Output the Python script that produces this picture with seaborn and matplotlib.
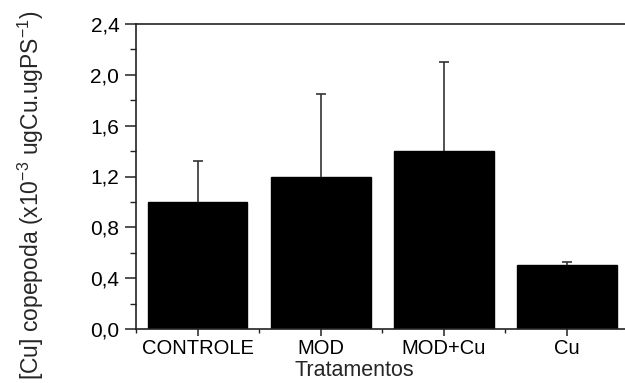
import matplotlib
matplotlib.use("Agg")
import matplotlib.pyplot as plt
import seaborn as sns
import pandas as pd
import numpy as np
from matplotlib.ticker import MultipleLocator, FuncFormatter

categories = ["CONTROLE", "MOD", "MOD+Cu", "Cu"]
means = [1.00, 1.20, 1.40, 0.50]
err_up = [0.32, 0.65, 0.70, 0.03]
yticks = [0.0, 0.4, 0.8, 1.2, 1.6, 2.0, 2.4]

sns.set_style("ticks")
plt.rcParams["font.family"] = ["Liberation Sans", "DejaVu Sans"]
plt.rcParams["mathtext.fontset"] = "custom"
plt.rcParams["mathtext.rm"] = "Liberation Sans"
plt.rcParams["mathtext.it"] = "Liberation Sans:italic"

df = pd.DataFrame({"Tratamento": categories, "valor": means})

fig = plt.figure(figsize=(6.25, 3.83), dpi=100)
ax = fig.add_axes([136/625, (383-329)/383, (628.5-136)/625, (329-24)/383])

sns.barplot(data=df, x="Tratamento", y="valor", color="black", width=0.81,
            saturation=1, ax=ax, errorbar=None, edgecolor="black")
_, caps, _ = ax.errorbar(np.arange(len(categories)), means,
                         yerr=[np.zeros(len(err_up)), err_up], fmt="none",
                         ecolor="#333333", elinewidth=1.2, capsize=3.5, capthick=1.2)
caps[0].set_visible(False)

ax.set_xlim(-0.5, 3.5)
ax.set_ylim(0, 2.4)
ax.set_yticks(yticks)
ax.yaxis.set_minor_locator(MultipleLocator(0.2))
ax.xaxis.set_minor_locator(MultipleLocator(1.0, offset=0.5))
ax.yaxis.set_major_formatter(FuncFormatter(lambda v, p: f"{v:.1f}".replace(".", ",")))

for s in ax.spines.values():
    s.set_linewidth(1.2)
    s.set_color("#222222")

ax.tick_params(axis="y", which="major", direction="out", length=8, width=1.1,
               labelsize=15, pad=4, colors="#222222", labelcolor="black")
ax.tick_params(axis="y", which="minor", direction="out", length=4, width=1.0,
               colors="#222222")
ax.tick_params(axis="x", which="major", direction="out", length=5, width=1.1,
               labelsize=14.5, pad=2, colors="#222222", labelcolor="black")
ax.tick_params(axis="x", which="minor", direction="out", length=3, width=1.0,
               colors="#222222")

ax.set_xlabel("Tratamentos", fontsize=15.5)
ax.xaxis.set_label_coords(0.443, -0.1016)
ax.set_ylabel(r"[Cu] copepoda (x10$^{-3}$ ugCu.ugPS$^{-1}$)", fontsize=16.5, va="center")
ax.yaxis.set_label_coords(-0.213, 0.439)

fig.savefig("out.png", dpi=100)
